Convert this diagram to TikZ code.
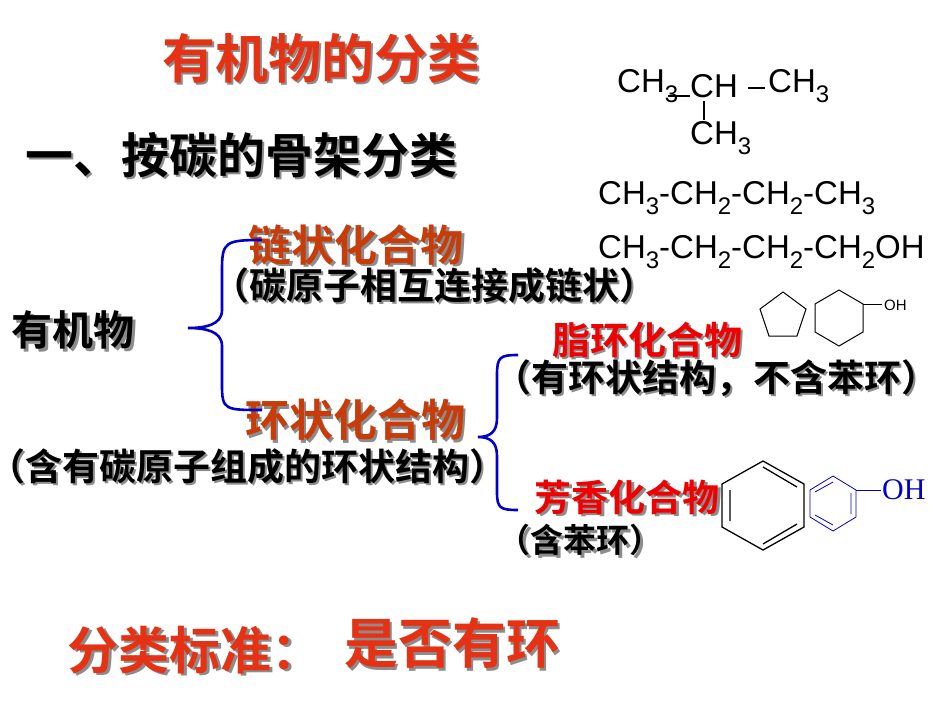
\documentclass[tikz,border=0pt]{standalone}
\usepackage{fontspec}
\setmainfont{Liberation Sans}
\newfontfamily\cjk{Noto Sans CJK SC}[BoldFont={Noto Sans CJK SC Bold}]
\newfontfamily\serifchem{Liberation Serif}
\definecolor{ttl}{RGB}{230,50,20}
\definecolor{brn}{RGB}{200,60,10}
\definecolor{rd}{RGB}{240,0,0}
\definecolor{blu}{RGB}{0,0,200}
\newcommand\fs[1]{\fontsize{#1}{#1}\selectfont}
\newcommand\sbs[1]{\raisebox{-0.28em}{\fs{24}#1}}
\begin{document}
\begin{tikzpicture}[x=1pt,y=-1pt,
  cn/.style={inner sep=0pt,font=\cjk\bfseries},
  shd/.style={inner sep=0pt,font=\cjk\bfseries,text=black!45,xshift=2.5pt,yshift=-2.5pt},
  chem/.style={inner sep=0pt,font=\fs{33}},
  brace/.style={draw=blu,line width=2.6pt},
  ring/.style={draw=black,line width=1pt},
]
\useasboundingbox (0,0) rectangle (950,713);
\foreach \nm/\x/\y/\s/\c/\t in {
 title/321/58/53/ttl/有机物的分类,
 sub/241/155/48/black/一、按碳的骨架分类,
 chain/356/245/43/brn/链状化合物,
 chaind/434/285/37/black/（碳原子相互连接成链状）,
 org/73/330/41/black/有机物,
 ali/647/340/38/rd/脂环化合物,
 alid/716/378/37/black/（有环状结构，不含苯环）,
 cyc/355/420/44/brn/环状化合物,
 cycd/247/466/37/black/（含有碳原子组成的环状结构）,
 aro/627/497/37/rd/芳香化合物,
 arod/580/540/33/black/（含苯环）,
 crit/195/650/51/ttl/分类标准：,
 critv/452/643/54/ttl/是否有环}
{
 \node[shd,font=\cjk\bfseries\fs{\s}] at (\x,\y) {\t};
 \node[cn,text=\c,font=\cjk\bfseries\fs{\s}] (\nm) at (\x,\y) {\t};
}
% isobutane
\node[chem,anchor=west] (m1) at (617,86) {CH\sbs{3}};
\node[chem,anchor=west] (m2) at (690,86) {CH};
\node[chem,anchor=west] (m3) at (768,86) {CH\sbs{3}};
\node[chem,anchor=west] (m4) at (690,138) {CH\sbs{3}};
\draw[line width=1.3pt] (668,96) -- (690,96);
\draw[line width=1.3pt] (748,88) -- (765,88);
\draw[line width=1.3pt] (704,101) -- (704,120);
% formulas
\node[chem,anchor=west] (f1) at (598,198) {CH\sbs{3}-CH\sbs{2}-CH\sbs{2}-CH\sbs{3}};
\node[chem,anchor=west] (f2) at (598,252) {CH\sbs{3}-CH\sbs{2}-CH\sbs{2}-CH\sbs{2}OH};
% braces
\draw[brace] (262,240) .. controls (225,240) and (222,242) .. (222,270) -- (222,310)
  .. controls (222,325) and (205,328) .. (188,328)
  .. controls (205,328) and (222,331) .. (222,346) -- (222,385)
  .. controls (222,410) and (225,410) .. (262,410);
\draw[brace] (518,355) .. controls (500,355) and (497,357) .. (497,375) -- (497,418)
  .. controls (497,432) and (490,437) .. (478,437)
  .. controls (490,437) and (497,442) .. (497,456) -- (497,492)
  .. controls (497,508) and (500,510) .. (518,510);
% pentagon
\draw[ring] (783,292) -- (806,309) -- (797,336) -- (769,336) -- (760,309) -- cycle;
% cyclohexane + OH
\draw[ring] (839,290) -- (863,304) -- (863,332) -- (839,346) -- (815,332) -- (815,304) -- cycle;
\draw[ring] (863,304) -- (882,304);
\node[inner sep=0pt,anchor=west,font=\fs{15}] (oh1) at (884,305) {OH};
% benzene
\draw[ring,line width=1.3pt] (763,461) -- (804,484) -- (804,527) -- (763,550) -- (722,527) -- (722,484) -- cycle;
\draw[line width=1.3pt] (730,490) -- (730,521) (763,467) -- (797,487) (763,544) -- (797,524);
% phenol blue
\draw[blu,line width=0.8pt] (833,476) -- (856,490) -- (856,517) -- (833,531) -- (810,517) -- (810,490) -- cycle;
\draw[blu,line width=0.8pt] (851,493) -- (851,514) (833,482) -- (815,492) (833,525) -- (815,515);
\draw[blu,line width=0.8pt] (856,490) -- (881,490);
\node[inner sep=0pt,anchor=west,text=blu,font=\serifchem\fs{30}] (oh2) at (882,490) {OH};
\end{tikzpicture}
\end{document}
